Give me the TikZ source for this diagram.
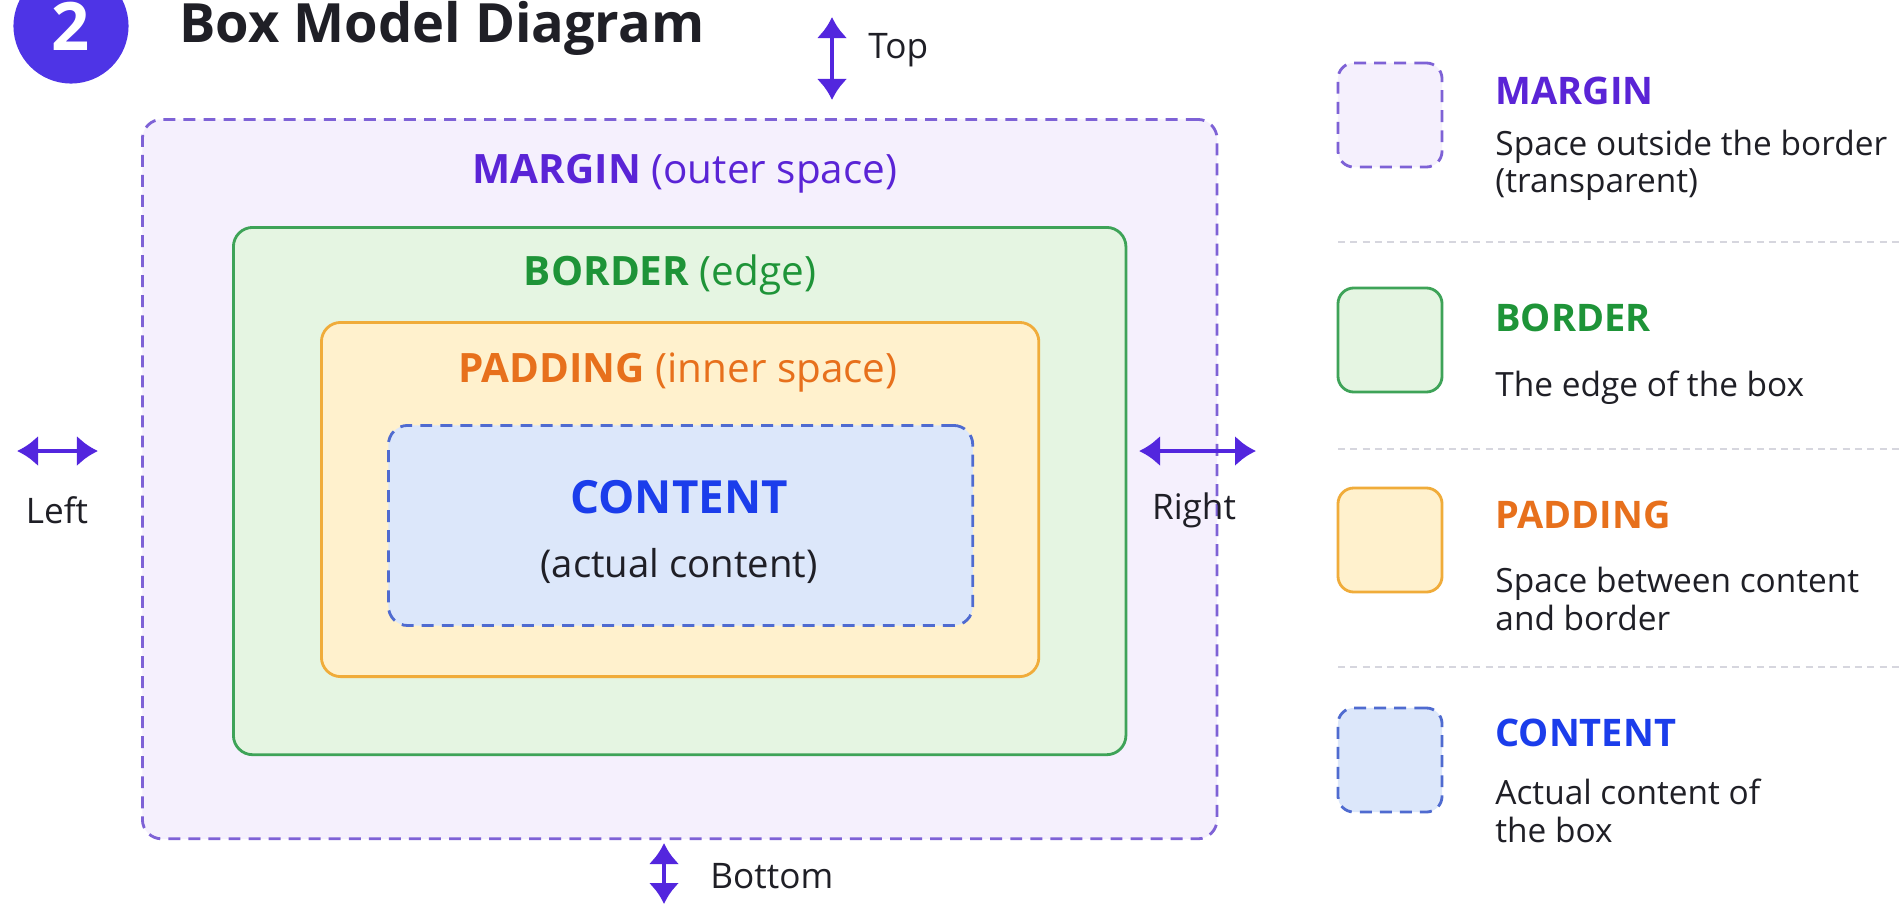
\documentclass[tikz,border=0pt]{standalone}
\usepackage{fontspec}
\setmainfont{Open Sans}
\usetikzlibrary{arrows.meta}
\definecolor{ink}{HTML}{1F1F26}
\definecolor{badgefill}{HTML}{4E34E6}
\definecolor{arrowclr}{HTML}{5326DE}
\definecolor{marginink}{HTML}{5A24D6}
\definecolor{marginline}{HTML}{7E62D6}
\definecolor{marginfill}{HTML}{F5F0FD}
\definecolor{borderink}{HTML}{1E9438}
\definecolor{borderline}{HTML}{3EA358}
\definecolor{borderfill}{HTML}{E5F5E2}
\definecolor{padink}{HTML}{E7701C}
\definecolor{padline}{HTML}{F0AC3A}
\definecolor{padfill}{HTML}{FFF1CD}
\definecolor{contink}{HTML}{1B3DEB}
\definecolor{contline}{HTML}{4F6BD0}
\definecolor{contfill}{HTML}{DCE7FA}
\definecolor{sepline}{HTML}{D6D6DE}
\begin{document}
\begin{tikzpicture}[x=0.01cm,y=-0.01cm,thick,>={Latex[length=2.1mm,width=3.1mm]}]
  \tikzstyle{box}=[draw,rectangle,rounded corners=5.5pt,inner sep=0pt,anchor=north west,line width=0.8pt]
  \tikzstyle{dashline}=[dash pattern=on 3.4pt off 2.3pt]
  \tikzstyle{swatch}=[draw,rectangle,rounded corners=4.5pt,minimum size=1.04cm,inner sep=0pt,line width=0.8pt]
  \tikzstyle{lbl}=[inner sep=0pt,font=\fontsize{11.5}{13}\selectfont]
  \tikzstyle{tag}=[inner sep=0pt,text=ink,font=\fontsize{10}{12}\selectfont]
  \tikzstyle{head}=[anchor=west,inner sep=0pt,font=\fontsize{10.8}{12}\selectfont\bfseries]
  \tikzstyle{desc}=[anchor=west,align=left,inner sep=0pt,text=ink,font=\fontsize{9.5}{10.6}\selectfont]
  \tikzstyle{gap}=[draw=arrowclr,line width=1.35pt,<->]
  \tikzstyle{sep}=[draw=sepline,line width=0.6pt,dash pattern=on 2pt off 1.5pt]
  \def\lx{1494}	% x of legend texts
  \def\sx{1390}	% x of legend swatches
  \useasboundingbox[fill=white] (0,0) rectangle (1901,906);

  % header
  \node[circle,fill=badgefill,minimum size=1.15cm,inner sep=0pt,text=white,
    font=\fontsize{19}{20}\selectfont\bfseries] (badge) at (71,26) {2};
  \node[anchor=west,inner sep=0pt,text=ink,font=\fontsize{15.4}{17}\selectfont\bfseries]
    (title) at (178,28) {Box Model Diagram};

  % nested boxes
  \node[box,dashline,draw=marginline,fill=marginfill,minimum width=10.74cm,minimum height=7.19cm] (margin) at (141,118) {};
  \node[box,draw=borderline,fill=borderfill,minimum width=8.92cm,minimum height=5.27cm] (border) at (232,226) {};
  \node[box,draw=padline,fill=padfill,minimum width=7.17cm,minimum height=3.54cm] (padding) at (320,321) {};
  \node[box,dashline,draw=contline,fill=contfill,minimum width=5.84cm,minimum height=2cm] (content) at (387,424) {};

  \node[lbl,text=marginink] (margintxt) at (685,174) {\textbf{MARGIN} (outer space)};
  \node[lbl,text=borderink] (bordertxt) at (670,275) {\textbf{BORDER} (edge)};
  \node[lbl,text=padink] (padtxt) at (678,373) {\textbf{PADDING} (inner space)};
  \node[inner sep=0pt,text=contink,font=\fontsize{13}{15}\selectfont\bfseries] (conttxt) at (679,497) {CONTENT};
  \node[inner sep=0pt,text=ink,font=\fontsize{10.9}{13}\selectfont] (contsub) at (679,566) {(actual content)};

  % spacing arrows
  \coordinate (topa) at (832,17);
  \coordinate (topb) at (832,100);
  \draw[gap] (topa) -- (topb);
  \node[tag,anchor=west] (toptag) at (867,50) {Top};
  \coordinate (lefta) at (17,451);
  \coordinate (leftb) at (98,451);
  \draw[gap] (lefta) -- (leftb);
  \node[tag] (lefttag) at (57,510) {Left};
  \coordinate (righta) at (1139,451);
  \coordinate (rightb) at (1256,451);
  \draw[gap] (righta) -- (rightb);
  \node[tag] (righttag) at (1194,510) {Right};
  \coordinate (bota) at (664,843);
  \coordinate (botb) at (664,904);
  \draw[gap] (bota) -- (botb);
  \node[tag,anchor=west] (bottag) at (709,876) {Bottom};

  % legend
  \node[swatch,dashline,draw=marginline,fill=marginfill] (swmargin) at (\sx,115) {};
  \node[head,text=marginink] (hmargin) at (\lx,91) {MARGIN};
  \node[desc] (dmargin) at (\lx,165) {Space outside the border\\(transparent)};
  \coordinate (sepa) at (1338,242);
  \coordinate (sepb) at (1901,242);
  \draw[sep] (sepa) -- (sepb);

  \node[swatch,draw=borderline,fill=borderfill] (swborder) at (\sx,340) {};
  \node[head,text=borderink] (hborder) at (\lx,318) {BORDER};
  \node[desc] (dborder) at (\lx,388) {The edge of the box};
  \coordinate (sepc) at (1338,449);
  \coordinate (sepd) at (1901,449);
  \draw[sep] (sepc) -- (sepd);

  \node[swatch,draw=padline,fill=padfill] (swpad) at (\sx,540) {};
  \node[head,text=padink] (hpad) at (\lx,515) {PADDING};
  \node[desc] (dpad) at (\lx,599) {Space between content\\and border};
  \coordinate (sepe) at (1338,667);
  \coordinate (sepf) at (1901,667);
  \draw[sep] (sepe) -- (sepf);

  \node[swatch,dashline,draw=contline,fill=contfill] (swcont) at (\sx,760) {};
  \node[head,text=contink] (hcont) at (\lx,733) {CONTENT};
  \node[desc] (dcont) at (\lx,811) {Actual content of\\the box};
\end{tikzpicture}
\end{document}
